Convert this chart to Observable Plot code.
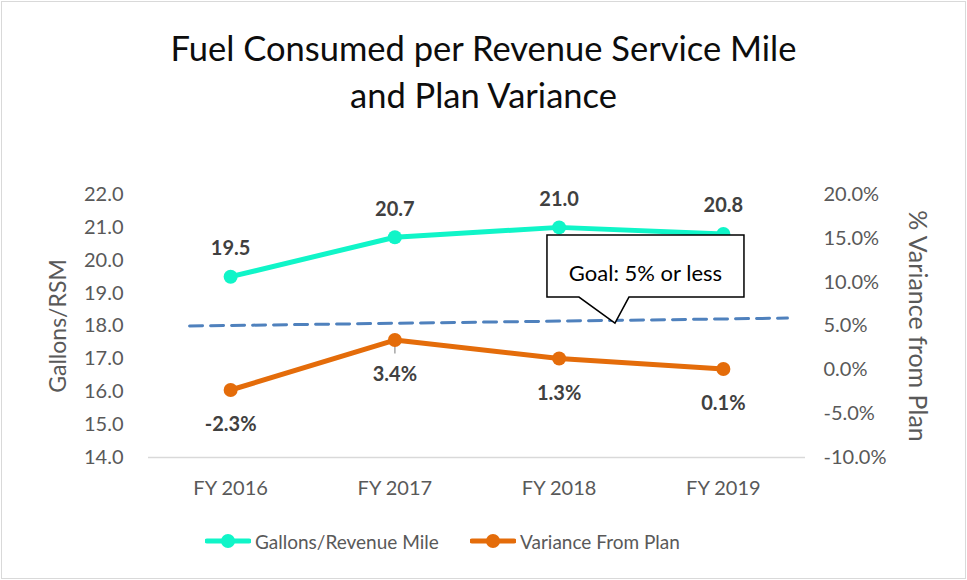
<!DOCTYPE html>
<html><head><meta charset="utf-8">
<script src="https://cdn.jsdelivr.net/npm/d3@7"></script>
<script src="https://cdn.jsdelivr.net/npm/@observablehq/plot@0.6"></script>
<style>
body{margin:0;background:#fff;font-family:Lato,"Open Sans",sans-serif}
#wrap{position:relative;width:967px;height:580px;overflow:hidden;background:#fff}
#frame{position:absolute;left:1px;top:1px;width:963px;height:576px;border:1px solid #d9d9d9;pointer-events:none}
#title{position:absolute;left:0;width:967px;top:24px;text-align:center;font-size:34.5px;line-height:47px;color:#0d0d0d}
#chart{position:absolute;left:0;top:0}
.item{position:absolute;top:529px;height:24px;display:flex;align-items:center;font-size:19px;color:#595959;white-space:nowrap}
.item svg{margin-right:4px}
</style></head>
<body>
<div id="wrap">
  <div id="chart"></div>
  <div id="title">Fuel Consumed per Revenue Service Mile<br>and Plan Variance</div>
  <div id="legend"></div>
  <div id="frame"></div>
</div>
<script>
const categories = ["FY 2016", "FY 2017", "FY 2018", "FY 2019"];
const gallons = [19.5, 20.7, 21.0, 20.8];
const variance = [-2.3, 3.4, 1.3, 0.1];
const leftTicks = [14, 15, 16, 17, 18, 19, 20, 21, 22];
const rightTicks = [-10, -5, 0, 5, 10, 15, 20];
const goalX = [-0.25, 3.39];
const goalV = [5.0, 5.9];
const calloutText = "Goal: 5% or less";
const calloutAt = {x: 2.343, v: 5.28};
const seriesNames = ["Gallons/Revenue Mile", "Variance From Plan"];

const teal = "#10F5C8", orange = "#E46C0A", goalBlue = "#4F81BD";
const leftDomain = [14, 22], rightDomain = [-10, 20];
const toLeft = v => leftDomain[0] + (v - rightDomain[0]) * (leftDomain[1] - leftDomain[0]) / (rightDomain[1] - rightDomain[0]);
const fromLeft = y => rightDomain[0] + (y - leftDomain[0]) * (rightDomain[1] - rightDomain[0]) / (leftDomain[1] - leftDomain[0]);

const goal = goalX.map((x, i) => ({x, v: goalV[i]}));

const callout = (index, scales) => {
  const px = scales.x(calloutAt.x), py = scales.y(toLeft(calloutAt.v));
  const g = d3.create("svg:g").attr("transform", `translate(${px},${py})`);
  g.append("path").attr("d", "M-68,-88H129V-26H14L0,0L-36,-26H-68Z")
    .attr("fill", "#fff").attr("stroke", "#000").attr("stroke-width", 1.5);
  g.append("text").attr("x", 30.5).attr("y", -48).attr("text-anchor", "middle")
    .attr("dominant-baseline", "middle").attr("font-size", 22).attr("fill", "#000")
    .attr("font-family", "Lato").text(calloutText);
  return g.node();
};

const chart = Plot.plot({
  width: 967, height: 580,
  marginLeft: 148, marginRight: 162, marginTop: 194, marginBottom: 123,
  x: {domain: [-0.5, 3.5]},
  y: {domain: leftDomain},
  style: {fontFamily: "Lato", background: "transparent"},
  marks: [
    Plot.ruleY([14], {stroke: "#d9d9d9", strokeWidth: 1.3}),
    Plot.axisY({anchor: "left", ticks: leftTicks, tickSize: 0, tickPadding: 25, tickFormat: d => d.toFixed(1), fontSize: 20, color: "#595959", label: null}),
    Plot.axisY({anchor: "right", ticks: rightTicks.map(toLeft), tickSize: 0, tickPadding: 18, tickFormat: d => (Math.round(fromLeft(d) * 10) / 10).toFixed(1) + "%", fontSize: 20, color: "#595959", label: null}),
    Plot.axisX({ticks: [0, 1, 2, 3], tickFormat: i => categories[i], tickSize: 0, tickPadding: 23, fontSize: 20, color: "#595959", label: null}),
    Plot.text(["Gallons/RSM"], {text: d => d, frameAnchor: "left", textAnchor: "middle", dx: -90, dy: 0, rotate: -90, fontSize: 23, fill: "#595959"}),
    Plot.text(["% Variance from Plan"], {text: d => d, frameAnchor: "right", textAnchor: "middle", dx: 111, rotate: 90, fontSize: 25, fill: "#595959"}),
    Plot.line(goal, {x: "x", y: d => toLeft(d.v), stroke: goalBlue, strokeWidth: 3, strokeDasharray: "13,8"}),
    Plot.line(gallons, {x: (d, i) => i, y: d => d, stroke: teal, strokeWidth: 5}),
    Plot.dot(gallons, {x: (d, i) => i, y: d => d, r: 7, fill: teal}),
    Plot.ruleX([1], {x: i => i, y1: i => toLeft(variance[i]), y2: i => toLeft(variance[i] - 1.6), stroke: "#a6a6a6", strokeWidth: 1.5}),
    Plot.line(variance, {x: (d, i) => i, y: toLeft, stroke: orange, strokeWidth: 5}),
    Plot.dot(variance, {x: (d, i) => i, y: toLeft, r: 7, fill: orange}),
    Plot.text(gallons, {x: (d, i) => i, y: d => d, text: d => d.toFixed(1), dy: -28, fontSize: 20, fontWeight: "bold", fill: "#404040"}),
    Plot.text(variance, {x: (d, i) => i, y: toLeft, text: d => d.toFixed(1) + "%", dy: 35, fontSize: 20, fontWeight: "bold", fill: "#404040"}),
    callout
  ]
});
document.getElementById("chart").append(chart);

const legend = document.getElementById("legend");
const legendLeft = [205, 470];
[teal, orange].forEach((c, i) => {
  const div = document.createElement("div");
  div.className = "item";
  div.style.left = legendLeft[i] + "px";
  div.innerHTML = `<svg width="46" height="16"><line x1="2" y1="8" x2="44" y2="8" stroke="${c}" stroke-width="5" stroke-linecap="round"/><circle cx="23" cy="8" r="7" fill="${c}"/></svg><span>${seriesNames[i]}</span>`;
  legend.append(div);
});
</script>
</body></html>
